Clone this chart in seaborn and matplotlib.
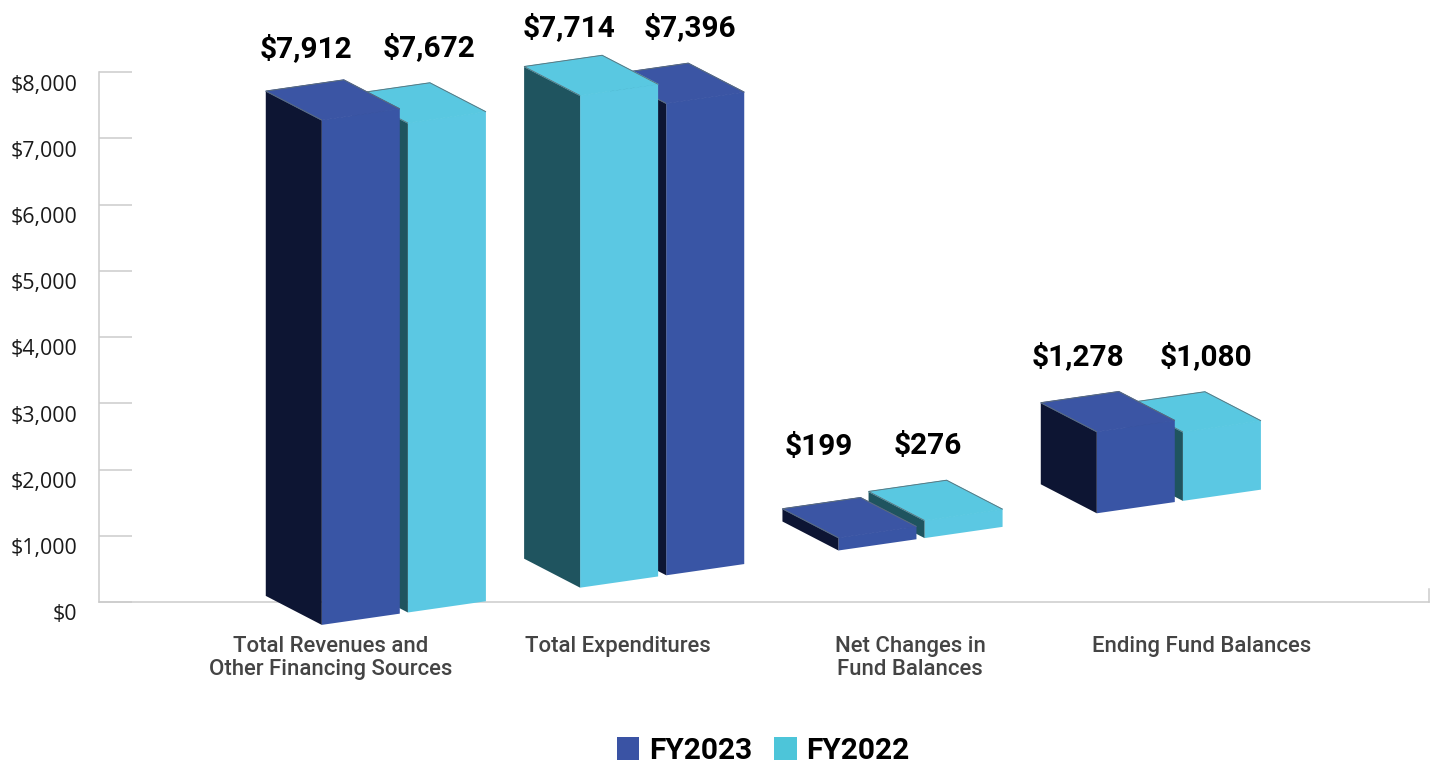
import numpy as np
import pandas as pd
import matplotlib
matplotlib.use('Agg')
import matplotlib.pyplot as plt
import seaborn as sns
from matplotlib.patches import Polygon
from matplotlib.transforms import Affine2D, ScaledTranslation

categories = ['Total Revenues and\nOther Financing Sources', 'Total Expenditures',
              'Net Changes in\nFund Balances', 'Ending Fund Balances']
fy2023 = [7912, 7396, 199, 1278]
fy2022 = [7672, 7714, 276, 1080]
y_ticks = [0, 1000, 2000, 3000, 4000, 5000, 6000, 7000, 8000]

# grid slots: the cyan bar comes first in the second group
slots_2023 = [0, 4, 6, 9]
slots_2022 = [1, 3, 7, 10]
label_slots = [-0.355, 2.985, 6.38, 9.76]

# value label offset from the bar's front top left corner, in pixels
label_offsets = {0: (-16, 71), 1: (21, 75), 3: (-11, 68), 4: (24, 76),
                 6: (-20, 91), 7: (3, 74), 9: (-19, 75), 10: (23, 75)}

blue, cyan = '#3955a5', '#5bc8e3'
side_colors = {blue: '#0d1533', cyan: '#1f545f'}
top_colors = {blue: '#3b55a4', cyan: '#59c8e1'}

df = pd.DataFrame({
    'slot': slots_2023 + slots_2022,
    'value': fy2023 + fy2022,
    'series': ['FY2023'] * 4 + ['FY2022'] * 4,
})

sns.set_style('white')
W, H = 1434, 763
fig = plt.figure(figsize=(W / 100, H / 100), dpi=100)
ax = fig.add_axes([99 / W, (H - 602) / H, (1429 - 99) / W, 530 / H])

sns.barplot(data=df, x='slot', y='value', hue='series', hue_order=['FY2023', 'FY2022'],
            palette=[blue, cyan], dodge=False, width=0.906, native_scale=True,
            saturation=1, ax=ax)

ax.set_xlim(-3.04, 12.405)
ax.set_ylim(0, 8000)
ax.set_xlabel('')
ax.set_ylabel('')

# the whole bar block is sheared and sits lower than the axis
k = 0.963
shear = Affine2D(np.array([[1, 0, 0],
                           [0.144, k, 138 - k * 161 - 0.144 * 321],
                           [0, 0, 1]]))
bar_trans = ax.transData + shear
depth = np.array([-56, 29])
values = dict(zip(df['slot'], df['value']))

for bar in list(ax.patches):
    x0, w, h = bar.get_x(), bar.get_width(), bar.get_height()
    if h == 0:
        continue
    slot = int(round(x0 + w / 2))
    color = matplotlib.colors.to_hex(bar.get_facecolor())
    z = 30 - 2 * slot
    bar.set_transform(bar_trans)
    bar.set_clip_on(False)
    bar.set_zorder(z)
    bar.set_edgecolor('none')
    bar.set_linewidth(0)
    bl, br, tr, tl = bar_trans.transform([(x0, 0), (x0 + w, 0), (x0 + w, h), (x0, h)])

    side = Polygon([bl, tl, tl + depth, bl + depth], closed=True, facecolor=side_colors[color],
                   edgecolor='none', clip_on=False, zorder=z)
    # same colour edge so no white seam shows against the front face
    top = Polygon([tl, tr, tr + depth, tl + depth], closed=True, facecolor=top_colors[color],
                  edgecolor=top_colors[color], linewidth=0.8, clip_on=False, zorder=z)
    rim = Polygon([tl, tl + depth, tr + depth, tr], closed=False, fill=False,
                  edgecolor='#5f6f75', linewidth=0.6, clip_on=False, zorder=z)
    for face in [side, top, rim]:
        face.set_transform(Affine2D())
        ax.add_patch(face)

    dx, dy = label_offsets[slot]
    ax.annotate(f'${values[slot]:,}', xy=(x0, h), xycoords=bar_trans,
                xytext=(dx * 0.72, dy * 0.72), textcoords='offset points',
                ha='center', va='center', fontsize=21.4, fontweight='bold',
                family='Roboto', color='black', zorder=60, annotation_clip=False)

ax.spines['top'].set_visible(False)
for side_name in ['left', 'bottom', 'right']:
    ax.spines[side_name].set_color('#cccccc')
    ax.spines[side_name].set_linewidth(1.1)
ax.spines['right'].set_bounds(0, 190)

ax.set_yticks(y_ticks)
ax.set_yticklabels([f'${v:,}' for v in y_ticks], family='Open Sans', fontsize=15.4, color='#1a1a1a')
ax.tick_params(axis='y', direction='in', length=24, width=1.1, color='#cccccc', pad=15.8, left=True)
shift = ScaledTranslation(0, -10.5 / 100, fig.dpi_scale_trans)
for label in ax.get_yticklabels():
    label.set_transform(label.get_transform() + shift)

ax.set_xticks(label_slots)
ax.set_xticklabels(categories, family='Roboto', fontweight='medium', fontsize=15.9,
                   color='#444444', linespacing=1.15)
ax.tick_params(axis='x', length=0, pad=24.4)

sns.move_legend(ax, 'center', bbox_to_anchor=(763.5 / W, (H - 751) / H),
                bbox_transform=fig.transFigure, ncol=2, frameon=False, title=None,
                fontsize=21.5, handlelength=0.74, handleheight=0.77, handletextpad=0.33,
                columnspacing=0.733, borderpad=0, borderaxespad=0)
legend = ax.get_legend()
legend.set_zorder(60)
for text in legend.get_texts():
    text.set_family('Roboto')
    text.set_fontweight('bold')
    text.set_color('black')
for handle, color in zip(legend.get_patches(), ['#3a53a4', '#4dc5d9']):
    handle.set_facecolor(color)
    handle.set_edgecolor('none')

fig.savefig('out.png', dpi=100)
